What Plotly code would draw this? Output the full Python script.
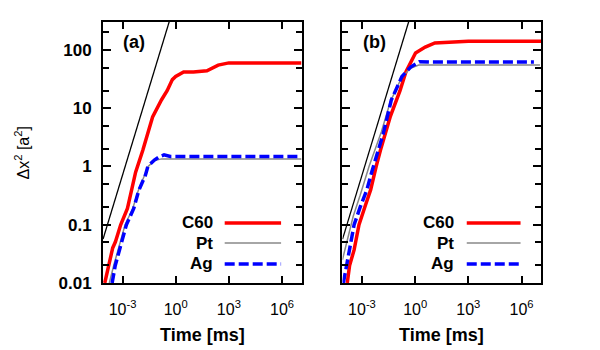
import numpy as np
from plotly import graph_objs as go
from plotly.subplots import make_subplots

# guide line (slope 1), same in both panels
guide_t = [8e-5, 0.45]
guide_y = [0.0566, 318]

# panel (a)
a_c60_t = [1.0e-4, 1.6e-4, 2.8e-4, 4.0e-4, 7.9e-4, 1.9e-3, 3.7e-3, 5.5e-3, 0.014, 0.05,
           0.16, 0.33, 0.65, 1.0, 2.8, 10, 58, 250, 1000, 1.26e7]
a_c60_y = [0.01, 0.02, 0.04, 0.051, 0.1, 0.19, 0.48, 0.8, 1.9, 7.1,
           14, 20, 31, 35, 42, 42, 44, 55, 60, 60]
a_pt_t = [1.8e-4, 3.2e-4, 1.4e-3, 3.8e-3, 7.6e-3, 0.019, 0.028, 0.063, 0.16, 1.26e7]
a_pt_y = [0.01, 0.02, 0.1, 0.19, 0.38, 0.72, 1.0, 1.26, 1.35, 1.35]
a_ag_t = [2.6e-4, 3.9e-4, 1.66e-3, 4.3e-3, 8.1e-3, 0.020, 0.027, 0.063, 0.126, 0.22, 0.5, 1.1e7]
a_ag_y = [0.01, 0.02, 0.1, 0.19, 0.38, 0.72, 1.0, 1.29, 1.48, 1.58, 1.48, 1.48]

# panel (b)
b_c60_t = [1.48e-4, 2.0e-4, 3.6e-4, 6.8e-4, 1.6e-3, 3.1e-3, 6.3e-3, 0.011, 0.039, 0.14,
           0.30, 1.05, 3.7, 13, 1000, 1.26e7]
b_c60_y = [0.01, 0.02, 0.037, 0.1, 0.22, 0.4, 1.0, 1.9, 7.1, 20,
           42, 89, 112, 132, 141, 141]
b_pt_t = [7.9e-5, 1.6e-4, 3.2e-4, 7.9e-4, 2.5e-3, 0.0126, 0.04, 0.16, 0.5, 1.6, 1.1e7]
b_pt_y = [0.025, 0.063, 0.14, 0.32, 1.0, 4.0, 13, 32, 48, 55, 55]
b_ag_t = [8.9e-5, 1.26e-4, 1.9e-4, 3.6e-4, 7.9e-4, 1.9e-3, 3.5e-3, 8.5e-3, 0.016, 0.045,
          0.18, 0.56, 1.74, 6.3, 5.0e6]
b_ag_y = [0.01, 0.017, 0.037, 0.1, 0.2, 0.4, 0.79, 1.9, 3.7, 13.8,
          35, 51, 63, 62, 62]

x_ticks = [1e-3, 1, 1e3, 1e6]
x_labels = ["10<sup>-3</sup>", "10<sup>0</sup>", "10<sup>3</sup>", "10<sup>6</sup>"]
y_ticks = [0.01, 0.1, 1, 10, 100]
y_labels = ["<b>0.01</b>", "<b>0.1</b>", "<b>1</b>", "<b>10</b>", "<b>100</b>"]
y_minor = [0.02, 0.05, 0.2, 0.5, 2, 5, 20, 50, 200]

FONT = "Liberation Sans, Arial, sans-serif"
RED = "#ff0000"
GRAY = "#888888"
BLUE = "#0000ff"
AG_DASH = "10px,4px"

fig = make_subplots(rows=1, cols=2, horizontal_spacing=0.0935)

panels = [
    (1, a_c60_t, a_c60_y, a_pt_t, a_pt_y, a_ag_t, a_ag_y),
    (2, b_c60_t, b_c60_y, b_pt_t, b_pt_y, b_ag_t, b_ag_y),
]
for col, ct, cy, pt, py, at, ay in panels:
    fig.add_trace(go.Scatter(x=guide_t, y=guide_y, mode="lines", showlegend=False,
                             line=dict(color="black", width=1.3)), row=1, col=col)
    fig.add_trace(go.Scatter(x=ct, y=cy, mode="lines", name="C60", showlegend=False,
                             line=dict(color=RED, width=3.5)), row=1, col=col)
    fig.add_trace(go.Scatter(x=pt, y=py, mode="lines", name="Pt", showlegend=False,
                             line=dict(color=GRAY, width=1.5)), row=1, col=col)
    fig.add_trace(go.Scatter(x=at, y=ay, mode="lines", name="Ag", showlegend=False,
                             line=dict(color=BLUE, width=3.5, dash=AG_DASH)), row=1, col=col)

axis_common = dict(showline=True, linecolor="black", linewidth=2, mirror="ticks",
                   ticks="inside", tickwidth=1.5, tickcolor="black", showgrid=False,
                   zeroline=False)

fig.update_xaxes(type="log", range=[-4.1, 7.1], tickvals=x_ticks, ticktext=x_labels,
                 ticklen=7, ticklabelstandoff=11,
                 tickfont=dict(family=FONT, size=16, color="black"), **axis_common)
fig.update_yaxes(type="log", range=[-2, 2.48], tickvals=y_ticks, ticktext=y_labels,
                 ticklen=8, ticklabelstandoff=6,
                 minor=dict(tickvals=y_minor, ticks="inside", ticklen=6, tickwidth=1.5,
                            tickcolor="black", showgrid=False),
                 tickfont=dict(family=FONT, size=17, color="black"), **axis_common)
fig.update_yaxes(showticklabels=False, row=1, col=2)

# titles
fig.add_annotation(text="Δx<sup>2</sup> [a<sup>2</sup>]", xref="paper", yref="paper",
                   x=-0.185, y=0.5, xanchor="center", yanchor="middle", textangle=-90,
                   showarrow=False, font=dict(family=FONT, size=16, color="black"))
for xr in ["x domain", "x2 domain"]:
    fig.add_annotation(text="<b>Time [ms]</b>", xref=xr, yref="paper", x=0.5, y=-0.2,
                       yanchor="middle", showarrow=False,
                       font=dict(family=FONT, size=18, color="black"))

for xr, yr, lab, lx in [("x domain", "y domain", "(a)", 0.093),
                        ("x2 domain", "y2 domain", "(b)", 0.094)]:
    fig.add_annotation(text="<b>" + lab + "</b>", xref=xr, yref=yr, x=lx, y=0.923,
                       xanchor="left", yanchor="middle", showarrow=False,
                       font=dict(family=FONT, size=18, color="black"))

# legends drawn by hand (text left of the sample line)
legend_items = [("C60", RED, 3.5, "solid", 0.23),
                ("Pt", GRAY, 1.5, "solid", 0.153),
                ("Ag", BLUE, 3.5, AG_DASH, 0.073)]
for xr, yr, tx, l0, l1 in [("x domain", "y domain", 0.562, 0.613, 0.897),
                           ("x2 domain", "y2 domain", 0.571, 0.626, 0.897)]:
    for name, color, w, dash, ly in legend_items:
        fig.add_annotation(text="<b>" + name + "</b>", xref=xr, yref=yr, x=tx, y=ly,
                           xanchor="right", yanchor="middle", showarrow=False,
                           font=dict(family=FONT, size=17, color="black"))
        fig.add_shape(type="line", xref=xr, yref=yr, x0=l0, x1=l1, y0=ly, y1=ly,
                      line=dict(color=color, width=w, dash=dash))

# page has an 8px body margin, so the figure is 8px smaller each way
fig.update_layout(width=592, height=342, margin=dict(l=95, r=59, t=14, b=67),
                  plot_bgcolor="white", paper_bgcolor="white",
                  font=dict(family=FONT, color="black"))
fig.write_html("out.html")
